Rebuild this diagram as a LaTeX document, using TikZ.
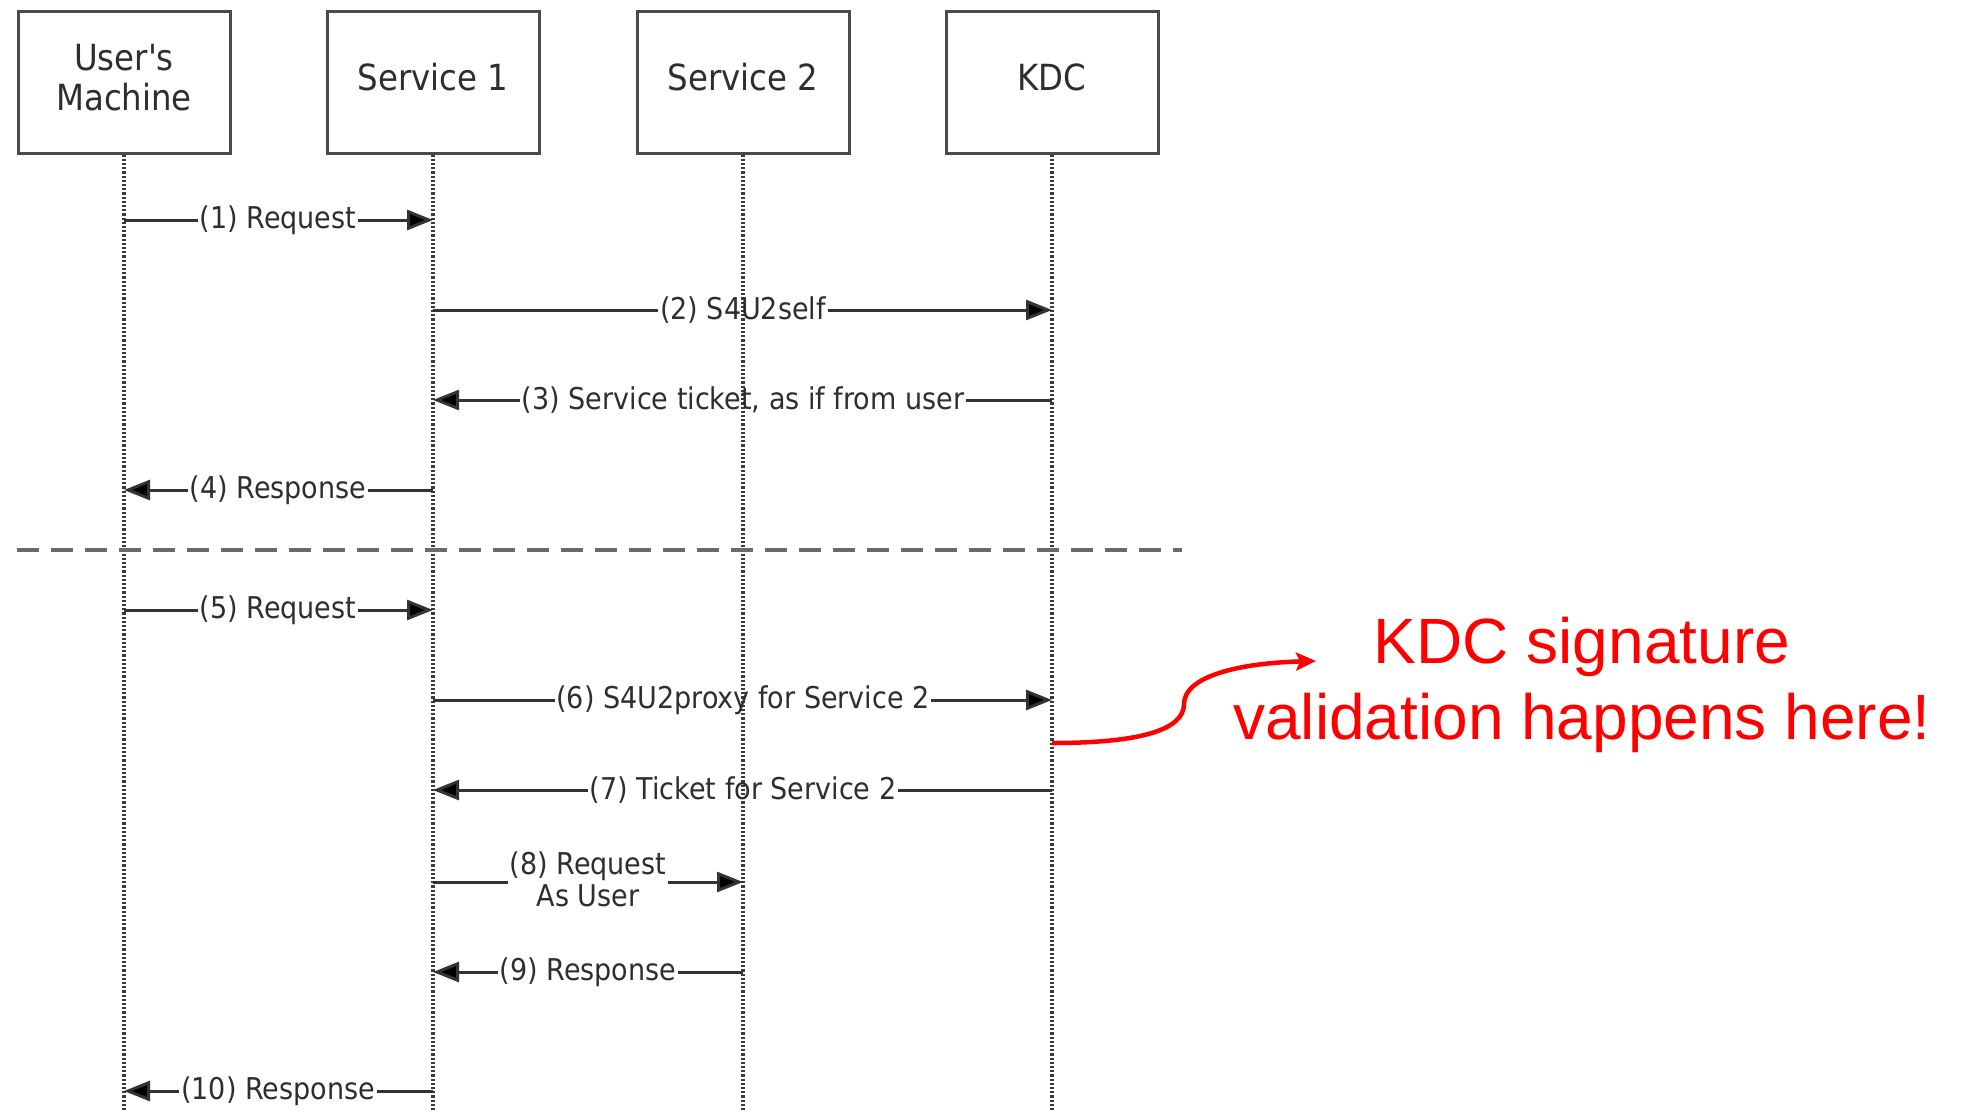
\documentclass[tikz,border=0pt]{standalone}
\usepackage{fontspec}
\usetikzlibrary{arrows.meta}
\newfontfamily\visfont{DejaVu Sans}[FakeStretch=0.9]
\newfontfamily\notefont{Liberation Sans}
\definecolor{boxline}{HTML}{4A4A4A}
\definecolor{msgline}{HTML}{333333}
\definecolor{msgtext}{HTML}{2E2E2E}
\definecolor{lifecol}{HTML}{3A3A3A}
\definecolor{sepcol}{HTML}{6A6A6A}
\newcommand{\boxlabel}[1]{\raisebox{6pt}{\begin{tabular}{@{}c@{}}#1\end{tabular}}}
\tikzset{
  actor/.style={draw=boxline, line width=3pt, fill=white,
    minimum width=212pt, minimum height=142pt, align=center,
    text=msgtext, font=\visfont\fontsize{36}{40}\selectfont},
  lifeline/.style={draw=lifecol, line width=3.2pt, dash pattern=on 2.2pt off 2pt},
  msg/.style={draw=msgline, line width=3pt},
  msgarrow/.style={msg, -{Triangle[length=26pt,width=20pt,fill=black]}},
  msglabel/.style={inner sep=1.5pt, text=msgtext, align=center,
    font=\visfont\fontsize{30}{32}\selectfont},
  separator/.style={draw=sepcol, line width=3.4pt, dash pattern=on 22pt off 12pt},
  notetext/.style={text=red, inner sep=0pt, font=\notefont\fontsize{64}{76}\selectfont},
  notearrow/.style={draw=red, line width=4.5pt, -{Stealth[length=20pt,width=18pt,inset=4pt]}}
}
\begin{document}
\begin{tikzpicture}[x=1pt,y=-1pt]
\useasboundingbox (0,0) rectangle (1961,1111);

% participants
\node[actor] (um) at (124,82) {\boxlabel{User{'}s\\Machine}};
\node[actor] (s1) at (433,82) {\boxlabel{Service 1}};
\node[actor] (s2) at (743,82) {\boxlabel{Service 2}};
\node[actor] (kdc) at (1052,82) {\boxlabel{KDC}};

% lifelines
\coordinate (umEnd) at (124,1111);
\coordinate (s1End) at (433,1111);
\coordinate (s2End) at (743,1111);
\coordinate (kdcEnd) at (1052,1111);
\draw[lifeline] (um.south) -- (umEnd);
\draw[lifeline] (s1.south) -- (s1End);
\draw[lifeline] (s2.south) -- (s2End);
\draw[lifeline] (kdc.south) -- (kdcEnd);

% phase separator
\coordinate (sepL) at (17,550);
\coordinate (sepR) at (1182,550);
\draw[separator] (sepL) -- (sepR);

% (1) request
\coordinate (a1) at (124,220); \coordinate (b1) at (433,220);
\node[msglabel] (t1) at (278,220) {(1) Request};
\draw[msg] (a1) -- (t1.west); \draw[msgarrow] (t1.east) -- (b1);

% (2) S4U2self
\coordinate (a2) at (433,310); \coordinate (b2) at (1052,310);
\node[msglabel] (t2) at (743,310) {(2) S4U2self};
\draw[msg] (a2) -- (t2.west); \draw[msgarrow] (t2.east) -- (b2);

% (3) service ticket
\coordinate (a3) at (1052,400); \coordinate (b3) at (433,400);
\node[msglabel] (t3) at (743,400) {(3) Service ticket, as if from user};
\draw[msg] (a3) -- (t3.east); \draw[msgarrow] (t3.west) -- (b3);

% (4) response
\coordinate (a4) at (433,490); \coordinate (b4) at (124,490);
\node[msglabel] (t4) at (278,490) {(4) Response};
\draw[msg] (a4) -- (t4.east); \draw[msgarrow] (t4.west) -- (b4);

% (5) request
\coordinate (a5) at (124,610); \coordinate (b5) at (433,610);
\node[msglabel] (t5) at (278,610) {(5) Request};
\draw[msg] (a5) -- (t5.west); \draw[msgarrow] (t5.east) -- (b5);

% (6) S4U2proxy
\coordinate (a6) at (433,700); \coordinate (b6) at (1052,700);
\node[msglabel] (t6) at (743,700) {(6) S4U2proxy for Service 2};
\draw[msg] (a6) -- (t6.west); \draw[msgarrow] (t6.east) -- (b6);

% (7) ticket for service 2
\coordinate (a7) at (1052,790); \coordinate (b7) at (433,790);
\node[msglabel] (t7) at (743,790) {(7) Ticket for Service 2};
\draw[msg] (a7) -- (t7.east); \draw[msgarrow] (t7.west) -- (b7);

% (8) request as user
\coordinate (a8) at (433,882); \coordinate (b8) at (743,882);
\node[msglabel] (t8) at (588,879) {(8) Request\\As User};
\draw[msg] (a8) -- (t8.west|-a8); \draw[msgarrow] (t8.east|-a8) -- (b8);

% (9) response
\coordinate (a9) at (743,972); \coordinate (b9) at (433,972);
\node[msglabel] (t9) at (588,972) {(9) Response};
\draw[msg] (a9) -- (t9.east); \draw[msgarrow] (t9.west) -- (b9);

% (10) response
\coordinate (a10) at (433,1091); \coordinate (b10) at (124,1091);
\node[msglabel] (t10) at (278,1091) {(10) Response};
\draw[msg] (a10) -- (t10.east); \draw[msgarrow] (t10.west) -- (b10);

% note on the KDC step
\node[notetext, anchor=base] (note1) at (1582,663) {KDC signature};
\node[notetext, anchor=base] (note2) at (1582,739) {validation happens here!};
\coordinate (noteStart) at (1052,743);
\coordinate (noteTip) at (1316,661);
\draw[notearrow] (noteStart) .. controls (1140,743) and (1184,730) .. (1184,704)
  .. controls (1184,676) and (1240,663) .. (noteTip);
\end{tikzpicture}
\end{document}
